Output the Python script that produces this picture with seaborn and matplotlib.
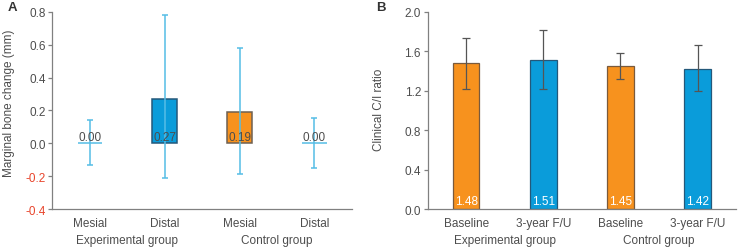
import numpy as np
import pandas as pd
import matplotlib
matplotlib.use('Agg')
import matplotlib.pyplot as plt
import seaborn as sns

# Panel A data: marginal bone change
a_keys = ['Exp Mesial', 'Exp Distal', 'Ctrl Mesial', 'Ctrl Distal']
a_sites = ['Mesial', 'Distal', 'Mesial', 'Distal']
a_values = [0.00, 0.27, 0.19, 0.00]
a_low = [-0.13, -0.21, -0.185, -0.148]
a_high = [0.142, 0.78, 0.58, 0.156]

# Panel B data: clinical C/I ratio
b_keys = ['Exp Baseline', 'Exp 3yr', 'Ctrl Baseline', 'Ctrl 3yr']
b_times = ['Baseline', '3-year F/U', 'Baseline', '3-year F/U']
b_values = [1.48, 1.51, 1.45, 1.42]
b_low = [1.216, 1.216, 1.32, 1.196]
b_high = [1.737, 1.818, 1.58, 1.66]

groups = ['Experimental group', 'Control group']

ORANGE = '#f7921e'
BLUE = '#0a9cda'
LIGHTBLUE = '#55bde6'
TEXT = '#4d4d4d'
SPINE = '#808080'
RED = '#e8452c'

sns.set_style('white')
plt.rcParams['font.family'] = ['Liberation Sans', 'DejaVu Sans']
plt.rcParams['font.size'] = 8.5

fig = plt.figure(figsize=(7.39, 2.51), dpi=100)
axA = fig.add_axes([0.071, 0.163, 0.405, 0.786])
axB = fig.add_axes([0.579, 0.163, 0.417, 0.786])


def style_axis(ax, labels, ylabel, lab_x, lab_y):
    for s in ['top', 'right']:
        ax.spines[s].set_visible(False)
    for s in ['left', 'bottom']:
        ax.spines[s].set_color(SPINE)
        ax.spines[s].set_linewidth(0.9)
    ax.set_xlim(-0.5, 3.5)
    ax.set_xticks(range(4))
    ax.set_xticklabels(labels, color=TEXT, fontsize=8.5)
    ax.tick_params(axis='x', which='major', length=0, pad=6)
    ax.set_xticks([0.5, 1.5, 2.5], minor=True)
    ax.tick_params(axis='x', which='minor', direction='in', length=3,
                   color=SPINE, width=0.9)
    ax.tick_params(axis='y', direction='out', length=3, color=SPINE,
                   width=0.9, labelcolor=TEXT, labelsize=8.5, pad=2, left=True)
    ax.set_xlabel('')
    ax.set_ylabel(ylabel, color=TEXT, fontsize=8.5)
    ax.yaxis.set_label_coords(lab_x, lab_y)
    for i, g in enumerate(groups):
        ax.text(0.5 + 2 * i, -0.157, g, transform=ax.get_xaxis_transform(),
                ha='center', va='center', color=TEXT, fontsize=8.5)


# ---- Panel A ----
dfA = pd.DataFrame({'key': a_keys, 'value': a_values})
sns.barplot(data=dfA, x='key', y='value', hue='key',
            palette=[LIGHTBLUE, BLUE, ORANGE, LIGHTBLUE], width=0.33,
            saturation=1, errorbar=None, legend=False, ax=axA)
edgesA = [LIGHTBLUE, '#24587a', '#6e6052', LIGHTBLUE]
for p, ec in zip(axA.patches, edgesA):
    p.set_edgecolor(ec)
    p.set_linewidth(1.1)
vals = np.array(a_values)
axA.errorbar(np.arange(4), vals,
             yerr=[vals - np.array(a_low), np.array(a_high) - vals],
             fmt='none', ecolor=LIGHTBLUE, elinewidth=1.1, capsize=2.3,
             capthick=1.1, zorder=5)
for i, v in enumerate(a_values):
    axA.annotate(f'{v:.2f}', (i, 0), xytext=(0, 0.5), textcoords='offset points',
                 ha='center', va='bottom', color=TEXT, fontsize=8.5, zorder=6)
axA.set_ylim(-0.4, 0.8)
axA.set_yticks(np.arange(-0.4, 0.81, 0.2))
style_axis(axA, a_sites, 'Marginal bone change (mm)', -0.125, 0.54)
axA.set_yticklabels([f'{t:.1f}' for t in np.arange(-0.4, 0.81, 0.2)])
for lbl, t in zip(axA.get_yticklabels(), np.arange(-0.4, 0.81, 0.2)):
    lbl.set_color(RED if t < -0.01 else TEXT)

# ---- Panel B ----
dfB = pd.DataFrame({'key': b_keys, 'value': b_values})
sns.barplot(data=dfB, x='key', y='value', hue='key',
            palette=[ORANGE, BLUE, ORANGE, BLUE], width=0.34,
            saturation=1, errorbar=None, legend=False, ax=axB)
edgesB = ['#7a5a3c', '#24587a', '#7a5a3c', '#24587a']
for p, ec in zip(axB.patches, edgesB):
    p.set_edgecolor(ec)
    p.set_linewidth(0.9)
vals = np.array(b_values)
axB.errorbar(np.arange(4), vals,
             yerr=[vals - np.array(b_low), np.array(b_high) - vals],
             fmt='none', ecolor='#555555', elinewidth=0.9, capsize=2.6,
             capthick=0.9, zorder=5)
for i, v in enumerate(b_values):
    axB.annotate(f'{v:.2f}', (i, 0), xytext=(0, 1.5), textcoords='offset points',
                 ha='center', va='bottom', color='white', fontsize=8.5, zorder=6)
axB.set_ylim(0, 2.0)
axB.set_yticks(np.arange(0, 2.01, 0.4))
style_axis(axB, b_times, 'Clinical C/I ratio', -0.14, 0.51)
axB.set_yticklabels([f'{t:.1f}' for t in np.arange(0, 2.01, 0.4)])

fig.text(0.011, 0.968, 'A', fontsize=9.5, fontweight='bold', color='#333333',
         ha='left', va='center')
fig.text(0.509, 0.968, 'B', fontsize=9.5, fontweight='bold', color='#333333',
         ha='left', va='center')

fig.savefig('out.png', dpi=100)
